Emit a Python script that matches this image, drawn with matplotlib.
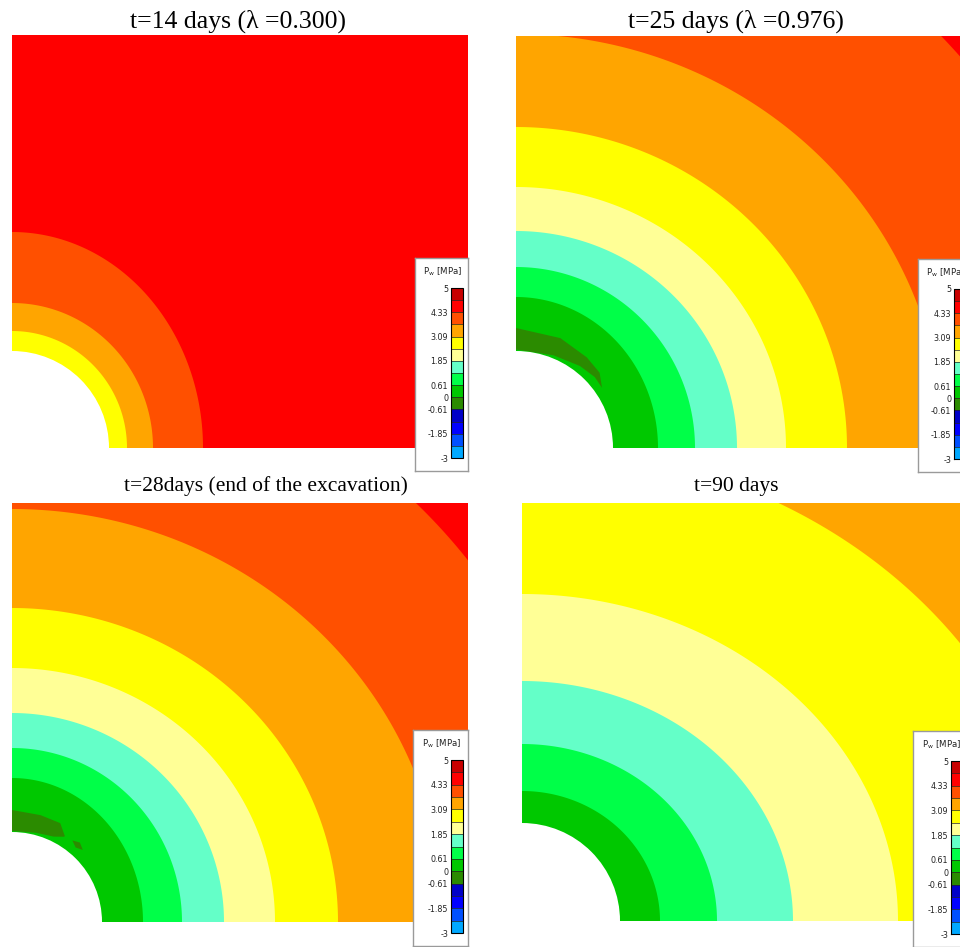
import numpy as np
import matplotlib as mpl
import matplotlib.pyplot as plt
from matplotlib.colors import ListedColormap, BoundaryNorm
from matplotlib.patches import Wedge

# =========================
# PORE PRESSURE SCALE (MPa)
# =========================
levels = [-3, -2.43, -1.85, -1.23, -0.61, 0, 0.61, 1.23, 1.85, 2.47, 3.09, 3.71, 4.33, 4.67, 5]
colors = ["#00a8ff", "#0050ff", "#0000ff", "#0000c8", "#2b8b00", "#00c800", "#00ff48",
          "#64ffc8", "#ffff96", "#ffff00", "#ffa500", "#ff5000", "#ff0000", "#c80000"]
tick_vals = [5, 4.33, 3.09, 1.85, 0.61, 0, -0.61, -1.85, -3]
tick_labels = ["5", "4.33", "3.09", "1.85", "0.61", "0", "-0.61", "-1.85", "-3"]

titles = ["t=14 days (λ =0.300)", "t=25 days (λ =0.976)",
          "t=28days (end of the excavation)", "t=90 days"]
title_size = [18.5, 18.5, 15.5, 15.5]

# =========================
# ISO-PRESSURE LINES
# (level, radius along x, radius along y) - model grid units
# =========================
hole_r = [97, 97, 90, 98]

iso_14 = [(3.09, 115, 117), (3.71, 141, 145), (4.33, 191, 216)]
iso_25 = [(0.61, 142, 151), (1.23, 179, 181), (1.85, 221, 217), (2.47, 270, 261),
          (3.09, 331, 321), (3.71, 428, 414), (4.33, 592, 592)]
iso_28 = [(0.61, 131, 144), (1.23, 170, 174), (1.85, 212, 209), (2.47, 263, 254),
          (3.09, 326, 314), (3.71, 432, 413), (4.33, 582, 582)]
iso_90 = [(0.61, 138, 130), (1.23, 195, 177), (1.85, 271, 240), (2.47, 376, 327),
          (3.09, 540, 475)]
iso_lines = [iso_14, iso_25, iso_28, iso_90]

# negative pressure zones next to the wall (angle deg, inner r, outer r)
neg_25 = [([90, 68, 52, 42, 35], [98.5, 100, 104, 106, 105], [120, 118.5, 115, 112.5, 105])]
neg_28 = [([90, 75, 64, 58.5], [91, 92.4, 95, 100], [112, 110.6, 110, 101]),
          ([53.5, 49.5, 45.5], [101.5, 98, 101], [101.5, 104.5, 101])]
neg_zones = [[], neg_25, neg_28, []]
neg_value = -0.3

# panel frames in pixels (left, top, width, height)
frames = [(12, 35, 456, 413), (516, 36, 456, 412), (12, 503, 456, 419), (522, 503, 456, 418)]
legend_boxes = [(415, 258, 53, 213), (918, 259, 53, 213), (413, 730, 55, 216), (913, 731, 55, 216)]
title_pos = [(238, 21), (736, 21), (266, 486), (736, 486)]

FW, FH = 960, 947
cmap = ListedColormap(colors)
norm = BoundaryNorm(levels, cmap.N)


def fig_rect(left, top, w, h):
    return [left / FW, 1 - (top + h) / FH, w / FW, h / FH]


def iso_radius(rx, ry, th):
    return 1.0 / np.sqrt((np.cos(th) / rx) ** 2 + (np.sin(th) / ry) ** 2)


fig = plt.figure(figsize=(FW / 100, FH / 100), dpi=100)
th = np.linspace(0, np.pi / 2, 300)

for k in range(4):
    left, top, w, h = frames[k]
    ax = fig.add_axes(fig_rect(left, top, w, h))
    ax.set_xlim(0, w)
    ax.set_ylim(0, h)
    ax.axis("off")

    iso = iso_lines[k]
    # far field colour, then fill inwards line by line
    ax.add_patch(plt.Rectangle((0, 0), w, h, color=cmap(norm(iso[-1][0] + 1e-3)), lw=0))
    for lev, rx, ry in iso[::-1]:
        r = iso_radius(rx, ry, th)
        ax.fill(np.r_[0, r * np.cos(th)], np.r_[0, r * np.sin(th)],
                color=cmap(norm(lev - 1e-3)), lw=0)

    for ang, r_in, r_out in neg_zones[k]:
        a = np.radians(ang)
        r_in, r_out = np.array(r_in), np.array(r_out)
        xs = np.r_[r_out * np.cos(a), (r_in * np.cos(a))[::-1]]
        ys = np.r_[r_out * np.sin(a), (r_in * np.sin(a))[::-1]]
        ax.fill(xs, ys, color=cmap(norm(neg_value)), lw=0)

    # excavation
    ax.add_patch(Wedge((0, 0), hole_r[k], 0, 90, color="white", lw=0))

    tx, ty = title_pos[k]
    fig.text(tx / FW, 1 - ty / FH, titles[k], ha="center", va="center",
             fontsize=title_size[k], family="Liberation Serif")

    # legend box
    bx, by, bw, bh = legend_boxes[k]
    lax = fig.add_axes(fig_rect(bx, by, bw, bh))
    lax.set_xticks([])
    lax.set_yticks([])
    lax.set_facecolor("white")
    for s in lax.spines.values():
        s.set_color("#9a9a9a")
        s.set_linewidth(1.0)
    lax.text(0.52, 0.935, r"P$_\mathregular{w}$ [MPa]", transform=lax.transAxes,
             ha="center", va="center", fontsize=6.2, color="#222222")

    cax = fig.add_axes(fig_rect(bx + bw - 17, by + 30, 12, bh - 43))
    cb = fig.colorbar(mpl.cm.ScalarMappable(norm=norm, cmap=cmap), cax=cax,
                      spacing="uniform", ticks=tick_vals, drawedges=True)
    cb.ax.set_yticklabels(tick_labels)
    cb.outline.set_linewidth(0.8)
    cb.dividers.set_linewidth(0.5)
    cb.dividers.set_color("#222222")
    cax.minorticks_off()
    cax.yaxis.set_ticks_position("left")
    cax.tick_params(which="both", length=0, labelsize=5.8, pad=2, colors="#222222")

plt.savefig("out.png", dpi=100)
